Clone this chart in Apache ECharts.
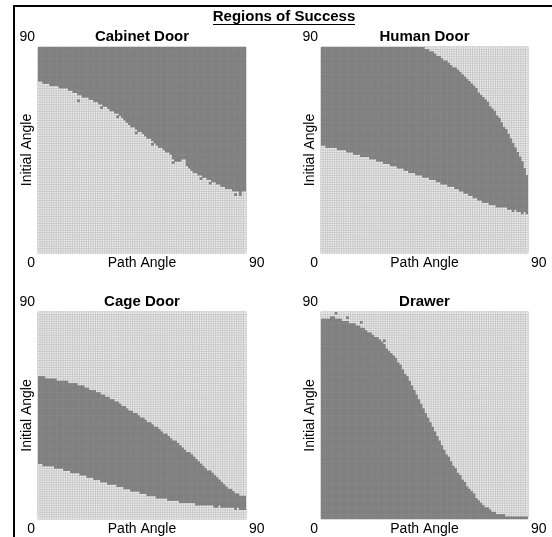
<!DOCTYPE html>
<html>
<head>
<meta charset="utf-8">
<script src="https://cdn.jsdelivr.net/npm/echarts@6/dist/echarts.min.js"></script>
<style>html,body{margin:0;padding:0;background:#fff}#c{width:552px;height:537px}</style>
</head>
<body>
<div id="c"></div>
<script>
// ---- data (column = path angle index 0..89, value = initial angle cell index) ----
const panelTitles = ['Cabinet Door', 'Human Door', 'Cage Door', 'Drawer'];
const mainTitle = 'Regions of Success';
const xAxisName = 'Path Angle';
const yAxisName = 'Initial Angle';
const tickMin = '0';
const tickMax = '90';

// Cabinet Door: success (dark) for rows >= cabinetLower[col]
const cabinetLower = [75,75,74,74, 74,73,73,73,73,72, 72,72,72,71,71,70, 70,69,69,68,68,
  68,67,67,66,66,65, 65,64,64,63,62,62,61, 61,60,59,58,57,56,55, 55,54,53,53,52,51,50,
  50,49,48,47,46,46,45,44, 44,43,41,40,40,40, 41,41,38,37,36, 35,35,34,34,33,33,
  32,32,31,31,30,30, 29,29,28,28,28,27, 27,27,26,27,27];
const cabinetSpecks = [[17,66],[27,63],[34,59],[42,52],[49,47],[58,39],[70,32],[74,30],[85,25],[87,25]];

// Human Door: success for humanLower[col] <= row < humanUpper[col]
const humanLower = [47,47,46,46,46, 46,46,45,45,45, 45,44,44,44,43, 43,43,42,42,42,
  42,41,41,41,40, 40,40,39,39,39, 38,38,38,37,37, 37,36,36,35,35, 35,34,34,34,33,
  33,33,32,32,32, 31,31,30,30,30, 29,29,29,28,28, 27,27,26,26,25, 25,24,24,23,23,
  22,22,22,21,21, 21,20,20,20,20, 20,19,19,18,19, 18,18,17,18,17];
const humanUpper = [90,90,90,90,90, 90,90,90,90,90, 90,90,90,90,90, 90,90,90,90,90,
  90,90,90,90,90, 90,90,90,90,90, 90,90,90,90,90, 90,90,90,90,90, 90,90,90,90,90,
  89,89,88,88,87, 86,86,85,84,84, 83,82,81,81,80, 79,78,77,76,75, 74,73,72,70,69,
  68,67,66,64,63, 62,60,59,57,55, 54,52,50,48,46, 44,42,40,37,34];

// Cage Door: success for cageLower[col] <= row < cageUpper[col]
const cageUpper = [62,62,62,61,61, 61,61,61,60,60, 60,60,60,59,59, 59,59,58,58,58,
  57,57,56,56,56, 55,55,54,54,53, 53,52,52,51,51, 50,49,49,48,47, 47,46,46,45,44,
  44,43,42,42,41, 40,40,39,38,37, 37,36,35,34,34, 33,32,31,30,29, 29,28,27,26,25,
  24,23,22,21,21, 20,19,18,17,16, 15,14,13,13,12, 11,11,10,10,10];
const cageLower = [24,24,23,23,23, 23,23,22,22,22, 22,21,21,21,20, 20,20,20,19,19,
  19,18,18,18,17, 17,17,16,16,16, 15,15,15,15,14, 14,14,13,13,13, 12,12,12,12,11,
  11,11,10,10,10, 10,9,9,9,9, 9,8,8,8,8, 8,7,7,7,7, 7,7,7,6,6,
  6,6,6,6,6, 6,5,5,6,5, 5,5,5,5,5, 4,5,4,4,4];

// Drawer: success for rows < drawerUpper[col]
const drawerUpper = [87,87,87,87,88, 88,87,87,87,86, 86,86,85,85,85, 84,84,83,83,82,
  81,81,80,79,79, 78,77,76,74,73, 72,71,70,68,67, 65,63,62,60,58, 56,54,52,50,48,
  46,44,42,40,38, 36,34,32,30,28, 27,25,23,22,20, 19,17,16,14,13, 12,11,9,8,7,
  6,5,5,4,3, 3,2,2,2,2, 1,1,1,1,1, 1,1,1,1,1];
const drawerSpecks = [[6,89],[11,87],[17,85],[27,77],[34,66],[39,57]];

// ---- build ----
const N = 90;
const cats = Array.from({length: N}, (_, i) => i);
function isDark(p, c, r) {
  if (p === 0) return r >= cabinetLower[c] || cabinetSpecks.some(s => s[0] === c && s[1] === r);
  if (p === 1) return r >= humanLower[c] && r < humanUpper[c];
  if (p === 2) return r >= cageLower[c] && r < cageUpper[c];
  return r < drawerUpper[c] || drawerSpecks.some(s => s[0] === c && s[1] === r);
}
const LIGHT = '#efefef', DARK = '#808080';
const grids = [
  {left: 38, top: 47, width: 208, height: 206},
  {left: 321, top: 47, width: 207, height: 206},
  {left: 38, top: 312, width: 208, height: 207},
  {left: 321, top: 312, width: 207, height: 207}
];
const xAxes = [], yAxes = [], series = [];
grids.forEach((g, p) => {
  xAxes.push({type: 'category', gridIndex: p, data: cats, show: false, boundaryGap: true});
  yAxes.push({type: 'category', gridIndex: p, data: cats, show: false, boundaryGap: true});
  const light = [], dark = [];
  for (let c = 0; c < N; c++) for (let r = 0; r < N; r++) {
    if (isDark(p, c, r)) dark.push([c, r, 1]); else light.push([c, r, 0]);
  }
  series.push({type: 'heatmap', xAxisIndex: p, yAxisIndex: p, data: light, silent: true, animation: false,
    progressive: 0, itemStyle: {borderColor: '#bcbcbc', borderWidth: 0.6}});
  series.push({type: 'heatmap', xAxisIndex: p, yAxisIndex: p, data: dark, silent: true, animation: false,
    progressive: 0, itemStyle: {borderWidth: 0}});
});

const FONT = '"Liberation Sans", Arial, sans-serif';
function txt(text, x, y, opts) {
  opts = opts || {};
  return {type: 'text', x: x, y: y, rotation: opts.rot || 0, silent: true, z: 100,
    style: {text: text, fill: '#000', font: (opts.bold ? 'bold ' : '') + (opts.size || 14) + 'px ' + FONT,
      textAlign: opts.align || 'center', textVerticalAlign: 'middle'}};
}
const graphic = [
  {type: 'line', shape: {x1: 14, y1: 6, x2: 14, y2: 537}, style: {stroke: '#000', lineWidth: 2}, silent: true},
  {type: 'line', shape: {x1: 13, y1: 6, x2: 552, y2: 6}, style: {stroke: '#000', lineWidth: 2}, silent: true},
  txt(mainTitle, 284, 17, {bold: true, size: 15}),
  {type: 'line', shape: {x1: 213, y1: 24.5, x2: 355, y2: 24.5}, style: {stroke: '#000', lineWidth: 1}, silent: true}
];
grids.forEach((g, p) => {
  const cx = g.left + g.width / 2;
  const topY = g.top - 10;
  const botY = g.top + g.height + 10;
  graphic.push(txt(panelTitles[p], cx, topY, {bold: true, size: 15}));
  graphic.push(txt(tickMax, g.left - 3, topY, {align: 'right'}));
  graphic.push(txt(tickMin, g.left - 3, botY, {align: 'right'}));
  graphic.push(txt(xAxisName, cx, botY));
  graphic.push(txt(tickMax, g.left + g.width + 3, botY, {align: 'left'}));
  graphic.push(txt(yAxisName, g.left - 11, g.top + g.height / 2, {rot: Math.PI / 2}));
});

const chart = echarts.init(document.getElementById('c'), null, {renderer: 'canvas'});
chart.setOption({
  backgroundColor: '#fff',
  animation: false,
  grid: grids,
  xAxis: xAxes,
  yAxis: yAxes,
  visualMap: {type: 'piecewise', show: false, dimension: 2,
    pieces: [{value: 0, color: LIGHT}, {value: 1, color: DARK}]},
  series: series,
  graphic: graphic
});
</script>
</body>
</html>
